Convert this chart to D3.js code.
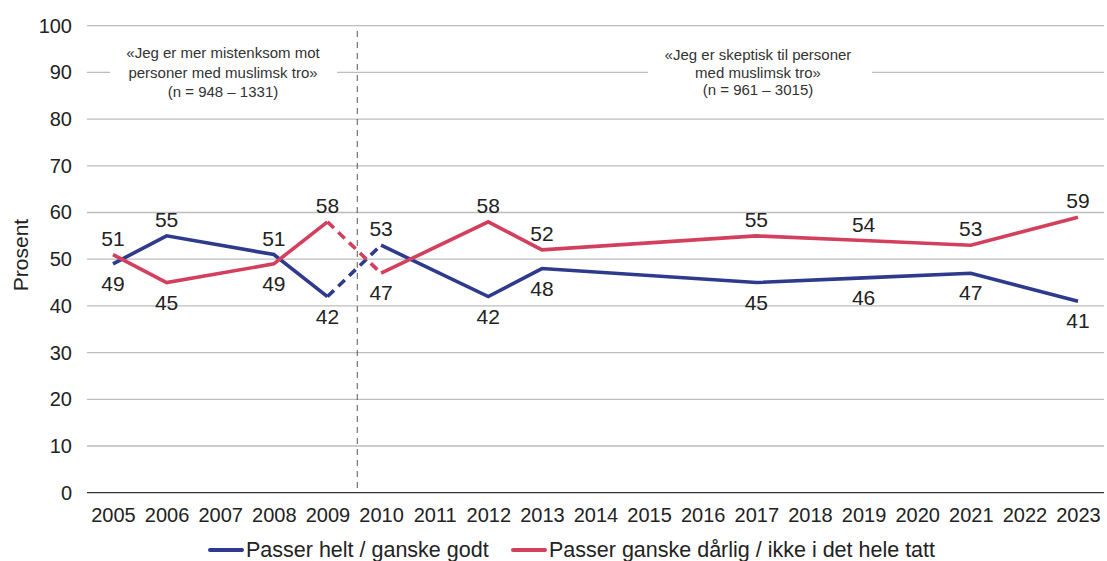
<!DOCTYPE html>
<html><head><meta charset="utf-8">
<script src="https://cdn.jsdelivr.net/npm/d3@7"></script>
<style>body{margin:0;background:#fff}svg{display:block;font-family:"Liberation Sans",Arial,sans-serif}</style>
</head><body><svg id="c" width="1107" height="561"></svg>
<script>
const years = ["2005","2006","2007","2008","2009","2010","2011","2012","2013","2014","2015","2016","2017","2018","2019","2020","2021","2022","2023"];
const dataYears = ["2005","2006","2008","2009","2010","2012","2013","2017","2019","2021","2023"];
const bluValues = [49,55,51,42,53,42,48,45,46,47,41];
const redValues = [51,45,49,58,47,58,52,55,54,53,59];
const yTicks = [0,10,20,30,40,50,60,70,80,90,100];
const seriesNames = ["Passer helt / ganske godt","Passer ganske dårlig / ikke i det hele tatt"];
const colors = ["#2e3a8c","#d2405e"];
const noteLeft = ["«Jeg er mer mistenksom mot","personer med muslimsk tro»","(n = 948 – 1331)"];
const noteRight = ["«Jeg er skeptisk til personer","med muslimsk tro»","(n = 961 – 3015)"];

const svg = d3.select("#c");
const x = d3.scalePoint().domain(years).range([113, 1078]);
const y = d3.scaleLinear().domain([0,100]).range([492.7, 25.7]);
const left = 87, right = 1104;

// gridlines
svg.append("g").selectAll("line").data(yTicks.filter(d=>d>0)).join("line")
  .attr("x1",left).attr("x2",right).attr("y1",d=>y(d)).attr("y2",d=>y(d))
  .attr("stroke","#bdbdbd").attr("stroke-width",1.3);
svg.append("line").attr("x1",left).attr("x2",right).attr("y1",y(0)).attr("y2",y(0))
  .attr("stroke","#333").attr("stroke-width",1.3);

// y axis labels
const yAxis = d3.axisLeft(y).tickValues(yTicks).tickSize(0).tickPadding(0);
const gy = svg.append("g").attr("transform","translate(72,0)").call(yAxis);
gy.select(".domain").remove();
gy.selectAll("text").attr("font-size",20).attr("fill","#222").attr("font-family","Liberation Sans, Arial, sans-serif");

// x axis labels
const xAxis = d3.axisBottom(x).tickSize(0).tickPadding(0);
const gx = svg.append("g").attr("transform","translate(0,508)").call(xAxis);
gx.select(".domain").remove();
gx.selectAll("text").attr("font-size",20).attr("fill","#222").attr("font-family","Liberation Sans, Arial, sans-serif");

svg.append("text").attr("transform","translate(28,255) rotate(-90)")
  .attr("text-anchor","middle").attr("font-size",21).attr("fill","#222").text("Prosent");

// annotation boxes
function note(lines, cx, x0, x1, y0, dy){
  svg.append("rect").attr("x",x0).attr("y",y(90)-4).attr("width",x1-x0).attr("height",8).attr("fill","#fff");
  svg.append("text").attr("text-anchor","middle").attr("font-size",15).attr("fill","#333")
    .selectAll("tspan").data(lines).join("tspan").attr("x",cx).attr("y",(d,i)=>y0+i*dy).text(d=>d);
}
note(noteLeft, 223, 110, 337, 58, 19.5);
note(noteRight, 758, 648, 872, 60, 17.5);

// vertical divider
const divX = (x("2009")+x("2010"))/2 + 3;
svg.append("line").attr("x1",divX).attr("x2",divX).attr("y1",31).attr("y2",y(0))
  .attr("stroke","#555").attr("stroke-width",1).attr("stroke-dasharray","6,5");

// series
const series = [bluValues, redValues];
const line = d3.line().x(d=>x(d.yr)).y(d=>y(d.v));
series.forEach((vals,si)=>{
  const pts = dataYears.map((yr,i)=>({yr, v:vals[i]}));
  const i9 = dataYears.indexOf("2009");
  const solid1 = pts.slice(0,i9+1), dash = pts.slice(i9,i9+2), solid2 = pts.slice(i9+1);
  [solid1,solid2].forEach(p=>svg.append("path").attr("d",line(p)).attr("fill","none")
    .attr("stroke",colors[si]).attr("stroke-width",3.6).attr("stroke-linejoin","miter"));
  svg.append("path").attr("d",line(dash)).attr("fill","none").attr("stroke",colors[si])
    .attr("stroke-width",3.6).attr("stroke-dasharray","9,6");
});

// data labels
dataYears.forEach((yr,i)=>{
  const b = bluValues[i], r = redValues[i];
  [[b, b>=r],[r, r>b]].forEach(([v,above])=>{
    svg.append("text").attr("x",x(yr)).attr("y", above ? y(v)-9 : y(v)+27)
      .attr("text-anchor","middle").attr("font-size",21).attr("fill","#222").text(v);
  });
});

// legend
const lg = [[210,242,246],[513,545,549]];
seriesNames.forEach((n,i)=>{
  svg.append("line").attr("x1",lg[i][0]).attr("x2",lg[i][1]).attr("y1",550).attr("y2",550)
    .attr("stroke",colors[i]).attr("stroke-width",4).attr("stroke-linecap","round");
  svg.append("text").attr("x",lg[i][2]).attr("y",557).attr("font-size",21.5).attr("fill","#222").text(n);
});
</script></body></html>
